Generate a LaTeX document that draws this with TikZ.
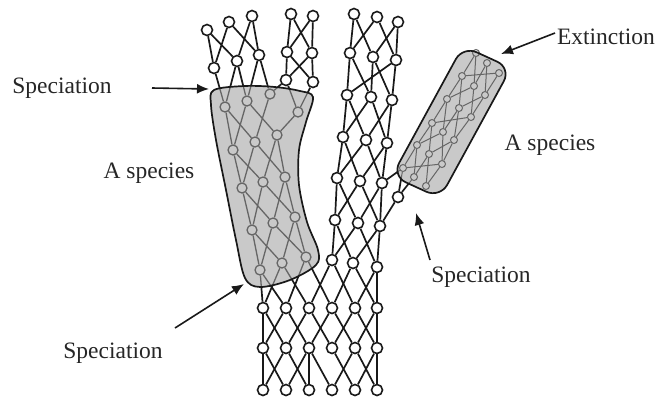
\documentclass[tikz,border=0pt]{standalone}
\usepackage{fontspec}
\setmainfont{Liberation Serif}
\usetikzlibrary{arrows.meta}
\pgfdeclarelayer{back}
\pgfdeclarelayer{mid}
\pgfdeclarelayer{front}
\pgfsetlayers{back,mid,main,front}
\tikzset{
  pc/.style={circle,draw=black!90,line width=1.6pt,minimum size=11pt,inner sep=0pt,fill=white},
  gc/.style={circle,draw=black!60,line width=1.3pt,minimum size=10pt,inner sep=0pt},
  sc/.style={circle,draw=black!60,line width=1pt,minimum size=7pt,inner sep=0pt},
  edge/.style={line width=1.7pt,black!90},
  inedge/.style={line width=1.3pt,black!60},
  blobfill/.style={fill=black!21},
  blobline/.style={draw=black!90,line width=1.7pt},
  lbl/.style={font=\fontsize{23.5}{25}\selectfont,text=black!85,inner sep=0pt},
  arr/.style={line width=1.6pt,black!90,-{Latex[length=12pt,width=10pt]}}
}
\def\blobL{plot[smooth cycle,tension=0.55] coordinates {(214,90) (245,86) (275,87) (300,91) (313,97) (306,122) (299,150) (299,185) (307,222) (318,250) (316,265) (290,280) (260,287) (245,278) (236,240) (226,190) (216,140) (211,105)}}
\def\blobR{[rounded corners=15pt] (463,46) -- (511,68) -- (440,198) -- (392,176) -- cycle}
\def\edgelist{a21/a11,a21/a12,a22/a11,a22/a13,a23/a12,a23/a13,a24/a14,a24/a15,a25/a14,a25/a15,
a34/a24,a34/a25,a35/a24,a35/a25,
b11/a21,b11/a22,b12/a22,b12/a23,b13/a23,b13/a34,b14/a34,b14/a35,
b21/b11,b21/b12,b22/b11,b22/b13,b23/b12,b23/b14,
b31/b21,b31/b22,b32/b21,b32/b23,b33/b22,b33/b23,
b41/b31,b41/b32,b42/b31,b42/b33,b43/b32,b43/b33,
b51/b41,b51/b42,b52/b41,b52/b43,b53/b42,b53/b43,
m21/m11,m21/m12,m22/m11,m22/m13,m23/m12,m23/m13,
m31/m21,m31/m23,m32/m21,m32/m22,m33/m22,m33/m23,
m41/m31,m41/m32,m42/m31,m42/m33,m43/m32,m43/m33,
m51/m41,m51/m42,m52/m41,m52/m43,m53/m42,m53/m43,
m61/m51,m61/m52,m62/m51,m62/m53,m63/m52,m63/m53,
m71/m61,m71/m62,m72/m61,m72/m63,m73/m62,m73/m63,
mx/m63,mx/r61,mx/r62,m53/r61,
r21/r11,r21/r13,r22/r11,r22/r12,r23/r12,r23/r13,
r31/r21,r31/r22,r32/r21,r32/r23,r33/r22,r33/r23,
r41/r31,r41/r33,r42/r31,r42/r32,r43/r32,r43/r33,
r51/r41,r51/r42,r52/r41,r52/r43,r53/r42,r53/r43,
r61/r51,r61/r53,r62/r51,r62/r52,r63/r52,r63/r53,
c11/b51,c11/b52,c12/b51,c12/b53,c13/b52,c13/m71,c14/b53,c14/m72,c15/m71,c15/m73,c16/m72,c16/m73,
c21/c11,c21/c12,c22/c11,c22/c13,c23/c12,c23/c14,c24/c13,c24/c15,c25/c14,c25/c16,c26/c15,c26/c16,
c31/c21,c31/c22,c32/c21,c32/c23,c33/c23,c33/c22,c34/c23,c34/c25,c35/c24,c35/c26,c36/c25,c36/c26}
\begin{document}
\begin{tikzpicture}[x=1pt,y=-1pt]
\useasboundingbox (0,0) rectangle (662,400);
% blob fills
\begin{pgfonlayer}{mid}
\path[blobfill] \blobL;
\path[blobfill] \blobR;
\end{pgfonlayer}
% left upper lineage
\foreach \n/\x/\y in {a11/207/30,a12/229/22,a13/252/16,a14/291/14,a15/313/16,
  a21/214/68,a22/237/61,a23/259/55,a24/287/52,a25/312/53,a34/286/80,a35/313/82}
  \node[pc] (\n) at (\x,\y) {};
% left blob
\foreach \n/\x/\y in {b11/225/107,b12/247/101,b13/270/94,b14/298/112,
  b21/233/150,b22/255/142,b23/277/135,
  b31/242/188,b32/263/182,b33/285/177,
  b41/252/230,b42/273/223,b43/295/217,
  b51/260/270,b52/282/263,b53/306/257}
  \node[gc] (\n) at (\x,\y) {};
% middle lineage
\foreach \n/\x/\y in {m11/354/14,m12/377/17,m13/398/22,
  m21/350/53,m22/373/57,m23/396/60,
  m31/347/95,m32/371/97,m33/392/100,
  m41/343/137,m42/366/140,m43/387/143,
  m51/337/178,m52/360/181,m53/382/183,mx/398/197,
  m61/335/220,m62/358/223,m63/380/226,
  m71/332/260,m72/353/263,m73/377/267}
  \node[pc] (\n) at (\x,\y) {};
% right blob
\foreach \n/\x/\y in {r11/476/53,r12/487/63,r13/499/73,
  r21/462/76,r22/474/86,r23/485/95,
  r31/447/99,r32/459/108,r33/471/117,
  r41/432/123,r42/443/132,r43/454/140,
  r51/417/145,r52/429/154,r53/442/164,
  r61/403/168,r62/414/177,r63/426/186}
  \node[sc] (\n) at (\x,\y) {};
% bottom rows
\foreach \r/\y in {1/308,2/348,3/390}
  \foreach \c/\x in {1/263,2/286,3/309,4/332,5/355,6/377}
    \node[pc] (c\r\c) at (\x,\y) {};
% black edges
\begin{pgfonlayer}{back}
\foreach \u/\v in \edgelist {\draw[edge] (\u) -- (\v);}
\end{pgfonlayer}
% grey edges inside blobs
\begin{pgfonlayer}{mid}
\begin{scope}
\clip \blobL;
\foreach \u/\v in \edgelist {\draw[inedge] (\u) -- (\v);}
\end{scope}
\begin{scope}
\clip \blobR;
\foreach \u/\v in \edgelist {\draw[inedge,line width=1pt] (\u) -- (\v);}
\end{scope}
\end{pgfonlayer}
\begin{pgfonlayer}{front}
\path[blobline] \blobL;
\path[blobline] \blobR;
\end{pgfonlayer}
% labels
\node[lbl] (t1) at (62,88) {Speciation};
\node[lbl] (t2) at (149,173) {A species};
\node[lbl] (t3) at (113,353) {Speciation};
\node[lbl] (t4) at (606,37) {Extinction};
\node[lbl] (t5) at (550,145) {A species};
\node[lbl] (t6) at (481,277) {Speciation};
% arrows
\coordinate (p1s) at (152,88);  \coordinate (p1e) at (209,89);
\coordinate (p3s) at (175,328); \coordinate (p3e) at (244,284);
\coordinate (p4s) at (555,33);  \coordinate (p4e) at (501,54);
\coordinate (p6s) at (430,260); \coordinate (p6e) at (416,213);
\draw[arr] (p1s) -- (p1e);
\draw[arr] (p3s) -- (p3e);
\draw[arr] (p4s) -- (p4e);
\draw[arr] (p6s) -- (p6e);
\end{tikzpicture}
\end{document}
